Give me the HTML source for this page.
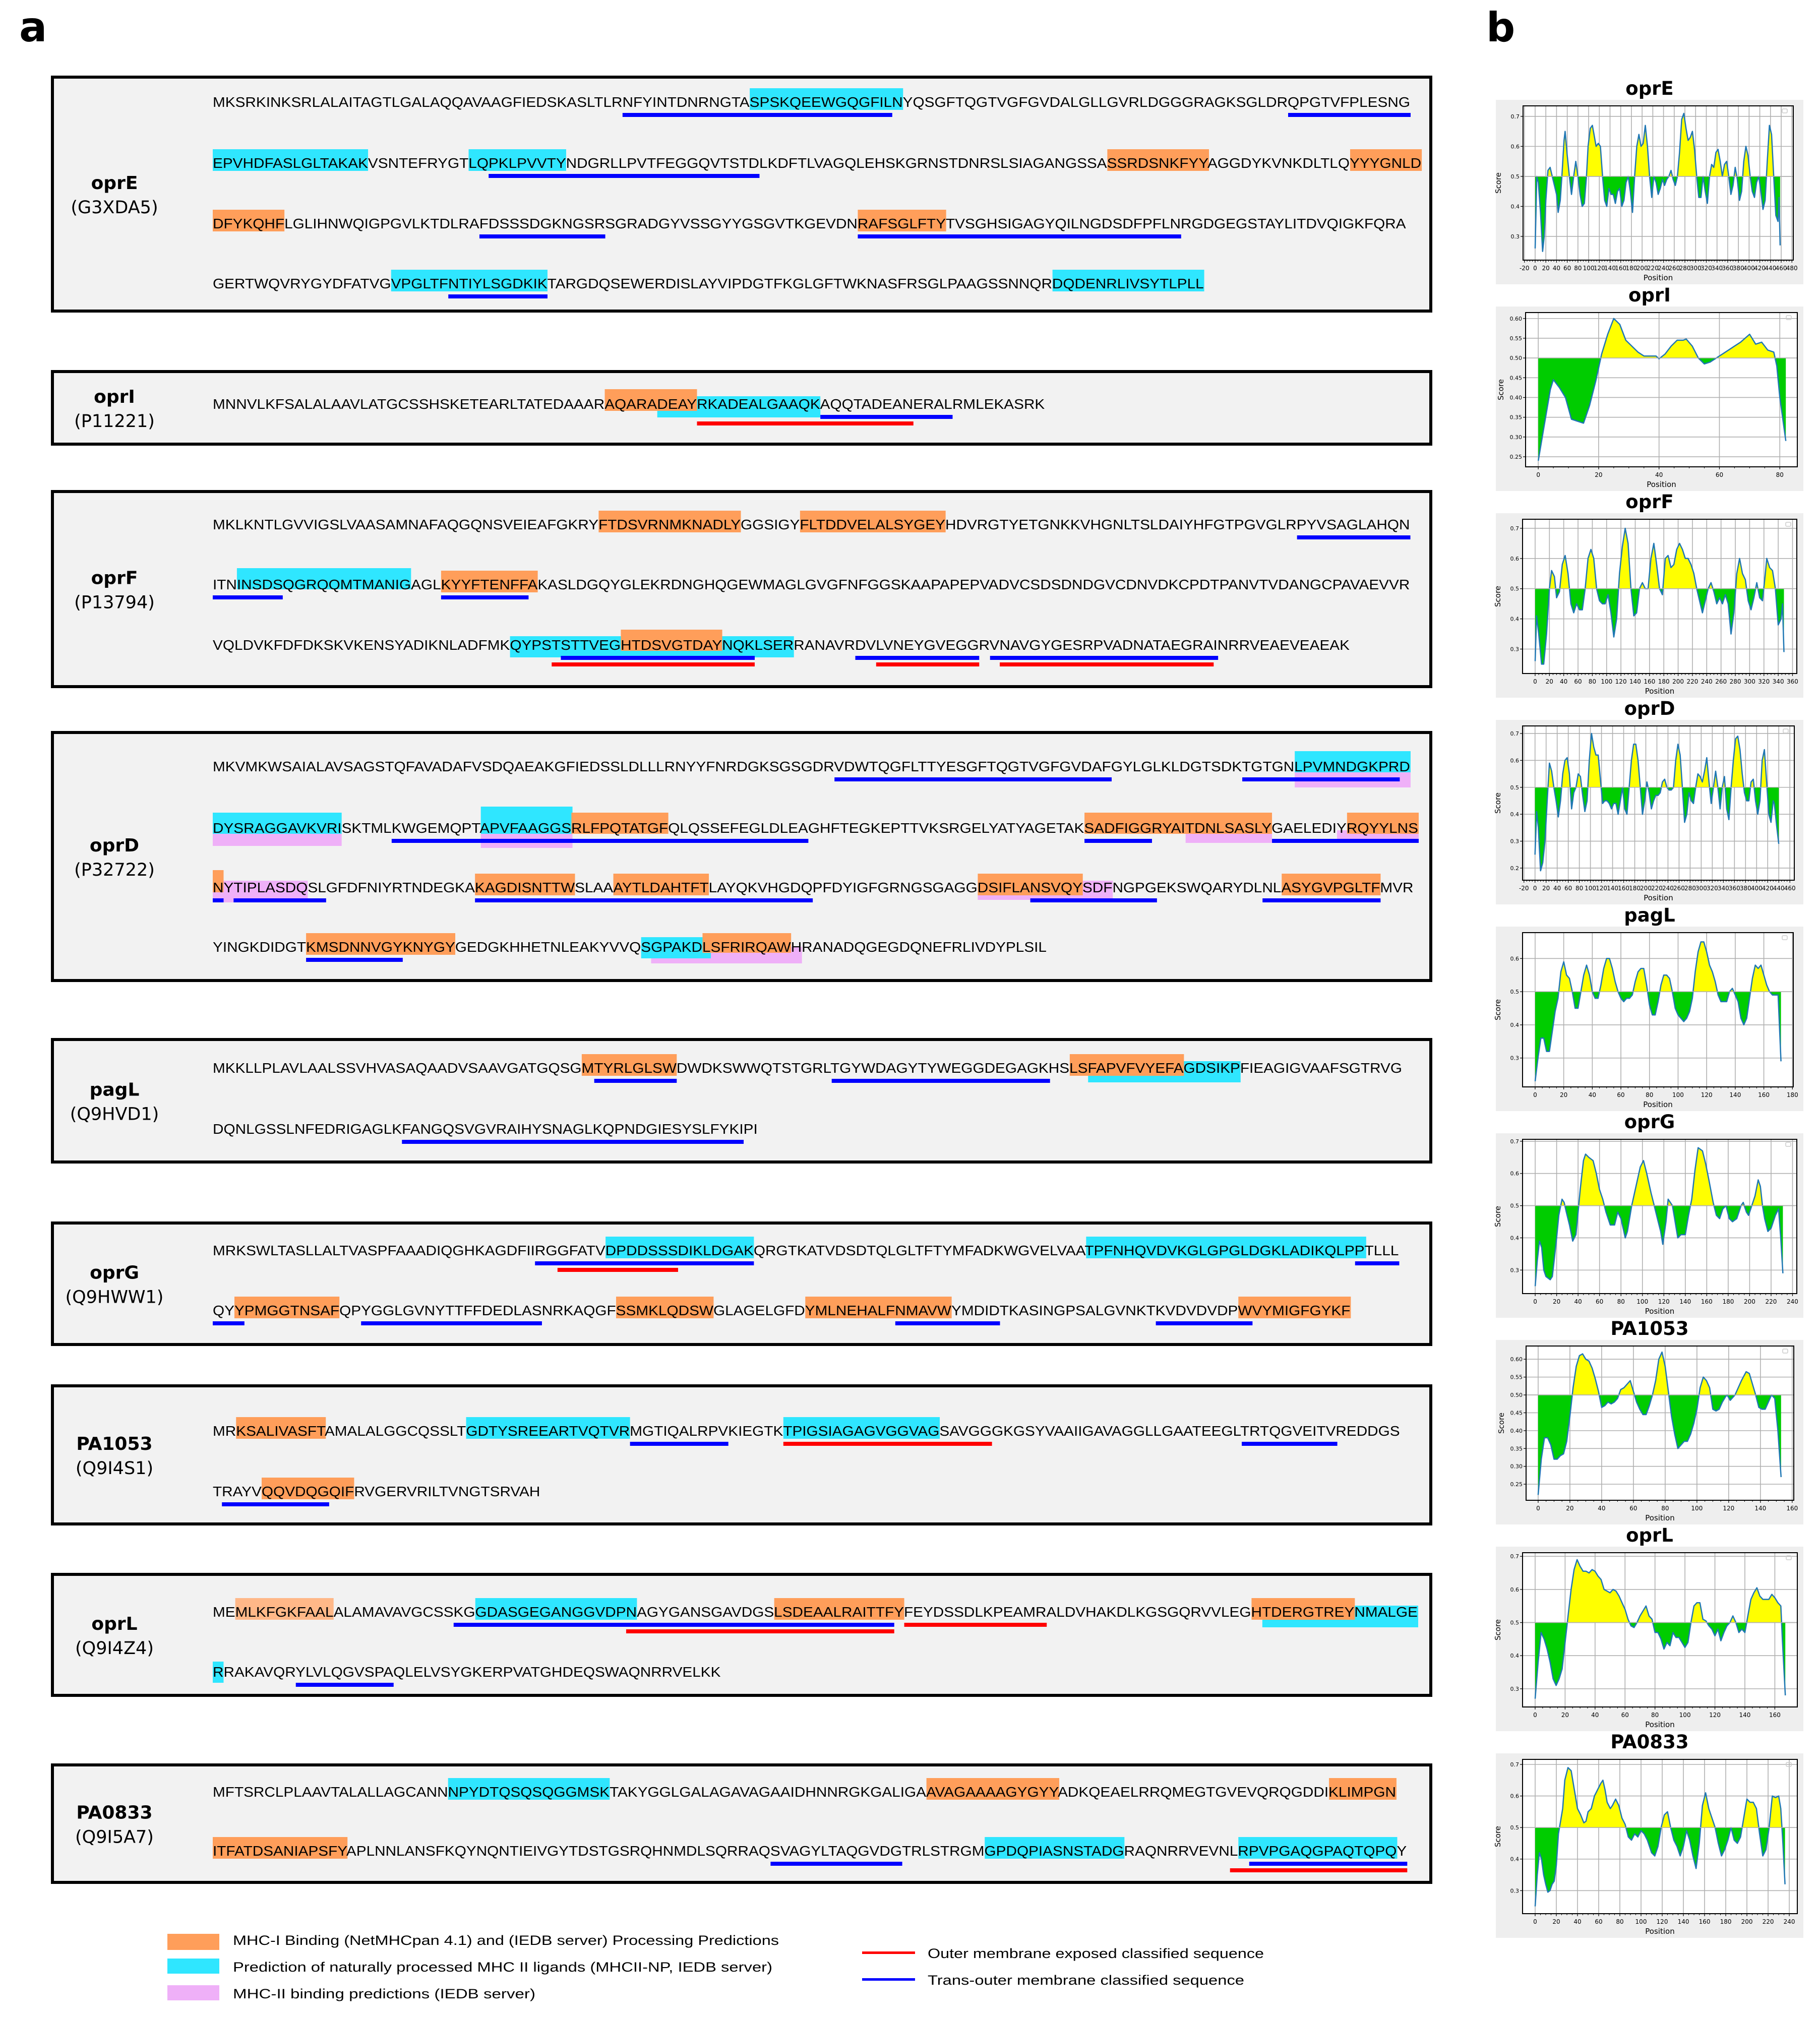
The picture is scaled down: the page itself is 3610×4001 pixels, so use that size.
<!DOCTYPE html>
<html><head><meta charset="utf-8"><style>
html,body{margin:0;padding:0;background:#fff;}
svg{display:block;}
</style></head>
<body>
<svg id="fig" xmlns="http://www.w3.org/2000/svg" width="3610" height="4001" viewBox="0 0 3610 4001">
<rect x="0" y="0" width="3610" height="4001" fill="#fff"/>
<text x="38" y="82" font-family="DejaVu Sans, sans-serif" font-weight="bold" font-size="82">a</text>
<text x="2948" y="82" font-family="DejaVu Sans, sans-serif" font-weight="bold" font-size="80">b</text>
<g id="seqs"></g>
<g id="plots"></g>
<g id="legend">
  <rect x="332" y="3836" width="103" height="32" fill="#ff9e5a"/>
  <text x="462" y="3858" font-family="Liberation Sans, sans-serif" font-size="27" textLength="1083" lengthAdjust="spacingAndGlyphs">MHC-I Binding (NetMHCpan 4.1) and (IEDB server) Processing Predictions</text>
  <rect x="332" y="3885" width="103" height="30" fill="#2fe6ff"/>
  <text x="462" y="3911" font-family="Liberation Sans, sans-serif" font-size="27" textLength="1070" lengthAdjust="spacingAndGlyphs">Prediction of naturally processed MHC II ligands (MHCII-NP, IEDB server)</text>
  <rect x="332" y="3938" width="103" height="30" fill="#efb0f8"/>
  <text x="462" y="3964" font-family="Liberation Sans, sans-serif" font-size="27" textLength="600" lengthAdjust="spacingAndGlyphs">MHC-II binding predictions (IEDB server)</text>
  <rect x="1710" y="3871" width="105" height="5" fill="#ff0000"/>
  <text x="1840" y="3884" font-family="Liberation Sans, sans-serif" font-size="27" textLength="667" lengthAdjust="spacingAndGlyphs">Outer membrane exposed classified sequence</text>
  <rect x="1710" y="3924" width="105" height="5" fill="#0000ff"/>
  <text x="1840" y="3937" font-family="Liberation Sans, sans-serif" font-size="27" textLength="628" lengthAdjust="spacingAndGlyphs">Trans-outer membrane classified sequence</text>
</g>
</svg>
<script>
// ===== Panel b data (position vs score) =====
const panelNames = ["oprE","oprI","oprF","oprD","pagL","oprG","PA1053","oprL","PA0833"];
const oprE_pos = [0,3,6,10,14,17,20,24,28,32,36,40,43,47,50,54,56,60,64,68,72,76,80,84,88,92,96,99,103,107,110,114,118,122,126,130,134,138,142,146,150,154,158,162,166,170,174,178,182,186,190,194,198,202,206,210,214,218,222,226,230,234,238,242,246,250,254,258,262,266,270,274,278,282,286,290,294,298,302,306,310,314,318,322,326,330,334,338,342,346,350,354,358,362,366,370,374,378,382,386,390,394,398,402,406,410,414,418,422,426,430,434,438,442,446,450,454,456,458];
const oprE_score = [.26,.5,.48,.38,.25,.3,.42,.52,.53,.5,.47,.44,.38,.42,.5,.62,.65,.57,.5,.44,.5,.55,.5,.44,.4,.41,.5,.6,.66,.67,.64,.6,.61,.6,.5,.42,.4,.46,.44,.44,.41,.45,.46,.4,.42,.48,.5,.45,.38,.5,.6,.64,.6,.61,.67,.6,.5,.43,.5,.48,.44,.46,.49,.47,.49,.5,.52,.49,.47,.5,.58,.69,.71,.66,.62,.63,.65,.59,.5,.43,.43,.5,.45,.41,.5,.54,.53,.58,.59,.55,.5,.54,.55,.5,.44,.47,.53,.49,.42,.45,.55,.6,.57,.5,.45,.43,.48,.5,.45,.39,.42,.55,.67,.64,.5,.37,.35,.43,.27];
const oprI_pos = [0,2,4,5,7,9,11,13,15,17,19,21,23,25,27,29,31,33,35,37,39,40,42,44,46,48,49,51,53,55,57,59,61,63,65,67,70,72,74,76,78,79,80,82];
const oprI_score = [.24,.33,.42,.445,.425,.4,.345,.34,.335,.38,.44,.51,.56,.6,.585,.545,.53,.515,.505,.505,.505,.498,.51,.53,.545,.545,.548,.53,.5,.485,.49,.5,.51,.52,.53,.54,.56,.535,.54,.52,.515,.48,.4,.29];
const oprF_pos = [0,2,5,9,12,16,20,23,27,30,34,38,42,46,50,54,58,62,66,70,74,78,82,86,90,94,98,102,106,110,114,118,122,126,130,134,138,142,146,150,154,158,162,166,170,174,178,182,186,190,194,198,202,206,210,214,218,222,226,230,234,238,242,246,250,254,258,262,266,270,274,278,282,286,290,294,298,302,306,310,314,318,322,324,328,332,336,340,344,346,348];
const oprF_score = [.26,.41,.35,.25,.25,.35,.5,.56,.54,.47,.49,.58,.61,.55,.45,.42,.45,.43,.43,.5,.6,.63,.6,.5,.46,.45,.45,.48,.42,.34,.4,.55,.64,.7,.65,.5,.41,.42,.5,.52,.5,.5,.6,.65,.58,.5,.48,.6,.61,.57,.58,.63,.65,.63,.6,.6,.58,.55,.5,.46,.42,.46,.5,.52,.49,.45,.47,.45,.48,.45,.35,.42,.55,.6,.55,.53,.46,.43,.47,.52,.47,.46,.55,.6,.57,.56,.5,.38,.4,.45,.29];
const oprD_pos = [0,3,6,10,14,18,22,26,30,34,38,42,46,50,54,58,62,66,70,74,78,82,86,90,94,98,102,106,110,114,118,122,126,130,134,138,142,146,150,154,158,162,166,170,174,178,182,186,190,194,198,202,206,210,214,218,222,226,230,234,238,242,246,250,254,258,262,266,270,274,278,282,286,290,294,298,302,306,310,314,318,322,326,330,334,338,342,346,350,354,358,362,366,370,374,378,382,386,390,394,398,402,406,410,414,418,422,426,430,432,436,440];
const oprD_score = [.25,.41,.35,.19,.22,.3,.45,.59,.56,.5,.45,.39,.45,.55,.6,.61,.55,.42,.48,.5,.55,.54,.47,.41,.45,.6,.7,.65,.62,.62,.53,.44,.45,.45,.44,.42,.44,.44,.4,.45,.5,.42,.4,.5,.6,.66,.66,.6,.5,.4,.45,.52,.48,.42,.45,.47,.47,.48,.52,.53,.5,.49,.49,.5,.6,.66,.62,.5,.37,.4,.48,.45,.44,.5,.55,.54,.52,.56,.61,.52,.44,.5,.56,.5,.42,.5,.54,.42,.38,.5,.6,.68,.69,.64,.55,.48,.45,.45,.52,.53,.45,.4,.45,.6,.64,.52,.4,.37,.45,.44,.36,.29];
const pagL_pos = [0,2,4,6,8,10,12,14,16,18,20,22,24,26,28,30,32,34,36,38,40,42,44,46,48,50,52,54,56,58,60,62,64,66,68,70,72,74,76,78,80,82,84,86,88,90,92,94,96,98,100,102,104,106,108,110,112,114,116,118,120,122,124,126,128,130,132,134,136,138,140,142,144,146,148,150,152,154,156,158,160,162,164,166,168,170,172];
const pagL_score = [.23,.3,.36,.36,.32,.32,.38,.44,.48,.56,.59,.55,.54,.5,.45,.45,.5,.55,.58,.55,.5,.48,.48,.52,.57,.6,.6,.57,.53,.5,.48,.47,.48,.48,.49,.53,.56,.57,.57,.52,.46,.43,.43,.47,.52,.55,.55,.54,.5,.45,.43,.42,.41,.42,.44,.48,.56,.62,.65,.65,.62,.58,.56,.53,.49,.47,.47,.47,.5,.51,.49,.47,.42,.4,.42,.48,.54,.58,.57,.58,.55,.52,.5,.49,.49,.49,.29];
const oprG_pos = [0,2,4,6,8,10,14,16,18,20,22,25,27,29,32,35,38,40,42,45,47,50,54,57,60,63,66,70,74,77,80,84,86,90,94,98,101,104,108,111,114,117,119,122,124,126,128,130,133,136,140,143,146,149,152,156,159,162,166,169,172,175,178,181,184,188,192,194,197,199,202,205,208,210,212,214,217,220,224,227,229,231];
const oprG_score = [.25,.33,.39,.37,.3,.28,.27,.28,.34,.4,.47,.52,.51,.48,.44,.39,.41,.48,.55,.64,.66,.65,.64,.6,.55,.52,.48,.44,.44,.48,.46,.4,.42,.5,.56,.62,.64,.6,.54,.5,.46,.42,.38,.45,.52,.51,.5,.46,.4,.41,.41,.47,.52,.61,.68,.67,.63,.58,.51,.47,.46,.49,.5,.46,.45,.46,.5,.51,.48,.47,.5,.53,.58,.56,.5,.46,.42,.43,.47,.49,.4,.29];
const PA1053_pos = [0,2,4,6,8,10,12,14,16,18,20,22,24,26,28,30,32,34,36,38,40,42,44,46,48,50,52,54,56,58,60,62,64,66,68,70,72,74,76,78,80,82,84,86,88,90,92,94,96,98,100,102,104,106,108,110,112,114,116,118,119,121,124,126,128,131,133,135,137,139,141,143,145,147,149,151,153];
const PA1053_score = [.22,.32,.38,.38,.36,.32,.32,.33,.335,.37,.44,.52,.58,.61,.615,.6,.595,.575,.545,.51,.465,.47,.48,.475,.48,.49,.515,.52,.53,.54,.51,.48,.46,.445,.445,.47,.5,.54,.6,.62,.58,.51,.44,.39,.35,.36,.37,.37,.39,.42,.46,.52,.55,.54,.52,.46,.455,.46,.48,.495,.5,.485,.5,.52,.54,.565,.56,.53,.5,.465,.46,.46,.48,.5,.49,.4,.27];
const oprL_pos = [0,2,4,6,8,10,12,14,16,18,20,22,24,26,28,30,32,34,36,38,40,42,44,46,48,50,52,54,56,58,60,62,64,66,68,70,72,74,76,78,80,82,84,86,88,90,92,94,96,98,100,102,104,106,108,110,112,114,116,118,120,122,124,126,128,130,132,134,136,138,140,142,144,146,148,150,152,154,156,158,160,162,164,165,167];
const oprL_score = [.27,.38,.47,.45,.42,.38,.33,.31,.33,.36,.44,.52,.6,.66,.69,.67,.655,.655,.65,.66,.655,.64,.63,.6,.595,.59,.6,.595,.58,.56,.54,.51,.49,.485,.5,.52,.535,.55,.52,.51,.47,.47,.45,.42,.44,.43,.47,.455,.455,.44,.425,.44,.5,.55,.56,.56,.51,.505,.49,.48,.46,.48,.445,.47,.49,.5,.52,.5,.47,.48,.47,.52,.57,.59,.605,.58,.57,.57,.57,.585,.575,.56,.55,.45,.28];
const PA0833_pos = [0,2,4,6,8,10,12,14,16,18,20,22,24,26,28,31,34,37,40,43,46,48,50,53,56,59,62,64,66,68,71,73,76,79,82,85,88,91,94,97,100,103,106,110,113,116,119,122,125,128,131,134,137,140,143,146,149,152,155,158,161,164,167,170,173,176,179,182,185,188,191,194,197,200,203,206,209,212,215,218,221,224,227,230,232,234,236];
const PA0833_score = [.25,.35,.42,.4,.35,.32,.295,.3,.32,.33,.38,.48,.52,.56,.65,.69,.68,.62,.56,.54,.515,.52,.55,.56,.6,.62,.64,.65,.62,.58,.56,.57,.59,.57,.53,.51,.47,.46,.48,.47,.49,.48,.46,.42,.41,.44,.5,.54,.55,.5,.46,.44,.41,.44,.49,.46,.41,.37,.45,.57,.61,.56,.53,.5,.45,.41,.43,.46,.5,.46,.45,.47,.53,.59,.58,.58,.56,.48,.41,.43,.5,.6,.595,.6,.56,.45,.32];
const panelPos = [oprE_pos,oprI_pos,oprF_pos,oprD_pos,pagL_pos,oprG_pos,PA1053_pos,oprL_pos,PA0833_pos];
const panelScore = [oprE_score,oprI_score,oprF_score,oprD_score,pagL_score,oprG_score,PA1053_score,oprL_score,PA0833_score];
const panelXTicks = [[-20,480,20],[0,80,20],[0,360,20],[-20,460,20],[0,180,20],[0,240,20],[0,160,20],[0,160,20],[0,240,20]];
const panelYTicks = [[.3,.7,.1],[.25,.6,.05],[.3,.7,.1],[.2,.7,.1],[.3,.6,.1],[.3,.7,.1],[.25,.6,.05],[.3,.7,.1],[.3,.7,.1]];
const panelXDomain = [[-22.6,482.6],[-4.2,85.8],[-17.6,366],[-22.5,468],[-8.8,180.6],[-11.8,244],[-7.6,161],[-8.4,175],[-11.9,247.6]];
const panelYDomain = [[.221,.735],[.2245,.615],[.219,.73],[.155,.728],[.213,.678],[.227,.706],[.205,.637],[.245,.711],[.227,.716]];

// ===== Panel a data (sequences) =====
const proteins = [
 {name:"oprE",id:"(G3XDA5)",box:[153,617],base:[212,333,453,572],
  lines:["MKSRKINKSRLALAITAGTLGALAQQAVAAGFIEDSKASLTLRNFYINTDNRNGTASPSKQEEWGQGFILNYQSGFTQGTVGFGVDALGLLGVRLDGGGRAGKSGLDRQPGTVFPLESNG",
   "EPVHDFASLGLTAKAKVSNTEFRYGTLQPKLPVVTYNDGRLLPVTFEGGQVTSTDLKDFTLVAGQLEHSKGRNSTDNRSLSIAGANGSSASSRDSNKFYYAGGDYKVNKDLTLQYYYGNLD",
   "DFYKQHFLGLIHNWQIGPGVLKTDLRAFDSSSDGKNGSRSGRADGYVSSGYYGSGVTKGEVDNRAFSGLFTYTVSGHSIGAGYQILNGDSDFPFLNRGDGEGSTAYLITDVQIGKFQRA",
   "GERTWQVRYGYDFATVGVPGLTFNTIYLSGDKIKTARGDQSEWERDISLAYVIPDGTFKGLGFTWKNASFRSGLPAAGSSNNQRDQDENRLIVSYTLPLL"],
  hl:[[0,"SPSKQEEWGQGFILN","c"],[1,"EPVHDFASLGLTAKAK","c"],[1,"LQPKLPVVTY","c"],[1,"SSRDSNKFYY","o"],[1,"YYYGNLD","o"],[2,"DFYKQHF","o"],[2,"RAFSGLFTY","o"],[3,"VPGLTFNTIYLSGDKIK","c"],[3,"DQDENRLIVSYTLPLL","c"]],
  ul:[[0,"NFYINTDNRNGTASPSKQEEWGQGFIL","b",0],[0,"QPGTVFPLESNG","b",0],[1,"PKLPVVTYNDGRLLPVTFEGGQVTSTD","b",0],[2,"FDSSSDGKNGSR","b",0],[2,"RAFSGLFTYTVSGHSIGAGYQILNGDSDFPFLN","b",0],[3,"NTIYLSGDKIK","b",0]]},
 {name:"oprI",id:"(P11221)",box:[737,881],base:[811],
  lines:["MNNVLKFSALALAAVLATGCSSHSKETEARLTATEDAAARAQARADEAYRKADEALGAAQKAQQTADEANERALRMLEKASRK"],
  hl:[[0,"DEAYRKADEALGAAQK","c",-25,17],[0,"AQARADEAY","o",-39,4]],
  ul:[[0,"AQQTADEANERAL","b",0],[0,"RKADEALGAAQKAQQTADEAN","r",1]]},
 {name:"oprF",id:"(P13794)",box:[975,1362],base:[1050,1169,1289],
  lines:["MKLKNTLGVVIGSLVAASAMNAFAQGQNSVEIEAFGKRYFTDSVRNMKNADLYGGSIGYFLTDDVELALSYGEYHDVRGTYETGNKKVHGNLTSLDAIYHFGTPGVGLRPYVSAGLAHQN",
   "ITNINSDSQGRQQMTMANIGAGLKYYFTENFFAKASLDGQYGLEKRDNGHQGEWMAGLGVGFNFGGSKAAPAPEPVADVCSDSDNDGVCDNVDKCPDTPANVTVDANGCPAVAEVVR",
   "VQLDVKFDFDKSKVKENSYADIKNLADFMKQYPSTSTTVEGHTDSVGTDAYNQKLSERRANAVRDVLVNEYGVEGGRVNAVGYGESRPVADNATAEGRAINRRVEAEVEAEAK"],
  hl:[[0,"FTDSVRNMKNADLY","o"],[0,"FLTDDVELALSYGEY","o"],[1,"INSDSQGRQQMTMANIG","c",-42,0],[1,"KYYFTENFFA","o"],[2,"QYPSTSTTVEGHTDSVGTDAYNQKLSER","c",-27,15],[2,"HTDSVGTDAY","o",-40,2]],
  ul:[[0,"PYVSAGLAHQN","b",0],[1,"ITNINSDS","b",0],[1,"KYYFTENFF","b",0],[2,"STTVEGHTDSVGTDAYNQK","b",0],[2,"DVLVNEYGVEGG","b",0],[2,"VNAVGYGESRPVADNATAEGRAI","b",0],[2,"TSTTVEGHTDSVGTDAYNQK","r",1],[2,"LVNEYGVEGG","r",1],[2,"NAVGYGESRPVADNATAEGRA","r",1]]},
 {name:"oprD",id:"(P32722)",box:[1453,1945],base:[1530,1652,1770,1888],
  lines:["MKVMKWSAIALAVSAGSTQFAVADAFVSDQAEAKGFIEDSSLDLLLRNYYFNRDGKSGSGDRVDWTQGFLTTYESGFTQGTVGFGVDAFGYLGLKLDGTSDKTGTGNLPVMNDGKPRD",
   "DYSRAGGAVKVRISKTMLKWGEMQPTAPVFAAGGSRLFPQTATGFQLQSSEFEGLDLEAGHFTEGKEPTTVKSRGELYATYAGETAKSADFIGGRYAITDNLSASLYGAELEDIYRQYYLNS",
   "NYTIPLASDQSLGFDFNIYRTNDEGKAKAGDISNTTWSLAAAYTLDAHTFTLAYQKVHGDQPFDYIGFGRNGSGAGGDSIFLANSVQYSDFNGPGEKSWQARYDLNLASYGVPGLTFMVR",
   "YINGKDIDGTKMSDNNVGYKNYGYGEDGKHHETNLEAKYVVQSGPAKDLSFRIRQAWHRANADQGEGDQNEFRLIVDYPLSIL"],
  hl:[[0,"LPVMNDGKPRD","p",-10,32],[0,"LPVMNDGKPRD","c",-40,2],[1,"DYSRAGGAVKVRI","p",-10,26],[1,"DYSRAGGAVKVRI","c",-40,2],[1,"APVFAAGGS","p",-10,30],[1,"APVFAAGGS","c",-52,2],[1,"RLFPQTATGF","o",-40,2],[1,"TDNLSASLY","p",-5,20],[1,"SADFIGGRYAITDNLSASLY","o",-40,2],[1,"YRQYYLNS","p",-5,20],[1,"RQYYLNS","o",-40,2],
   [2,"NYTIPLASDQ","p",-23,20],[2,"N","o",-44,0],[2,"KAGDISNTTW","o"],[2,"AYTLDAHTFT","o"],[2,"DSIFLANSVQYSDF","p",-23,15],[2,"DSIFLANSVQY","o"],[2,"ASYGVPGLTF","o"],
   [3,"GPAKDLSFRIRQAWH","p",-10,23],[3,"KMSDNNVGYKNYGY","o"],[3,"SGPAKDL","c",-29,13],[3,"LSFRIRQAW","o",-37,2]],
  ul:[[0,"VDWTQGFLTTYESGFTQGTVGFGVDAF","b",0],[0,"TGTGNLPVMNDGKPR","b",0],[1,"KWGEMQPTAPVFAAGGSRLFPQTATGFQLQSSEFEGLDLEA","b",0],[1,"SADFIGG","b",0],[1,"GAELEDIYRQYYLNS","b",0],
   [2,"N","b",0],[2,"TIPLASDQSL","b",0],[2,"KAGDISNTTWSLAAAYTLDAHTFTLAYQKVHGDQ","b",0],[2,"NSVQYSDFNGPG","b",0],[2,"NLASYGVPGLTF","b",0],[3,"KMSDNNVGY","b",0]]},
 {name:"pagL",id:"(Q9HVD1)",box:[2062,2305],base:[2128,2249],
  lines:["MKKLLPLAVLAALSSVHVASAQAADVSAAVGATGQSGMTYRLGLSWDWDKSWWQTSTGRLTGYWDAGYTYWEGGDEGAGKHSLSFAPVFVYEFAGDSIKPFIEAGIGVAAFSGTRVG",
   "DQNLGSSLNFEDRIGAGLKFANGQSVGVRAIHYSNAGLKQPNDGIESYSLFYKIPI"],
  hl:[[0,"MTYRLGLSW","o"],[0,"FAPVFVYEFAGDSIKP","c",-23,19],[0,"LSFAPVFVYEFA","o"]],
  ul:[[0,"TYRLGLSW","b",0],[0,"TGYWDAGYTYWEGGDEGAGK","b",0],[1,"FANGQSVGVRAIHYSNAGLKQPNDGIESYSLFYKI","b",0]]},
 {name:"oprG",id:"(Q9HWW1)",box:[2426,2667],base:[2490,2609],
  lines:["MRKSWLTASLLALTVASPFAAADIQGHKAGDFIIRGGFATVDPDDSSSDIKLDGAKQRGTKATVDSDTQLGLTFTYMFADKWGVELVAATPFNHQVDVKGLGPGLDGKLADIKQLPPTLLL",
   "QYYPMGGTNSAFQPYGGLGVNYTTFFDEDLASNRKAQGFSSMKLQDSWGLAGELGFDYMLNEHALFNMAVWYMDIDTKASINGPSALGVNKTKVDVDVDPWVYMIGFGYKF"],
  hl:[[0,"DPDDSSSDIKLDGAK","c"],[0,"TPFNHQVDVKGLGPGLDGKLADIKQLPP","c"],[1,"YPMGGTNSAF","o"],[1,"SSMKLQDSW","o"],[1,"YMLNEHALFNMAVW","o"],[1,"WVYMIGFGYKF","o"]],
  ul:[[0,"RGGFATVDPDDSSSDIKLDGAK","b",0],[0,"GFATVDPDDSSS","r",1],[0,"PTLLL","b",0],[1,"QYY","b",0],[1,"YGGLGVNYTTFFDEDLAS","b",0],[1,"NMAVWYMDID","b",0],[1,"KVDVDVDPW","b",0]]},
 {name:"PA1053",id:"(Q9I4S1)",box:[2749,3023],base:[2848,2968],
  lines:["MRKSALIVASFTAMALALGGCQSSLTGDTYSREEARTVQTVRMGTIQALRPVKIEGTKTPIGSIAGAGVGGVAGSAVGGGKGSYVAAIIGAVAGGLLGAATEEGLTRTQGVEITVREDDGS",
   "TRAYVQQVDQGQIFRVGERVRILTVNGTSRVAH"],
  hl:[[0,"KSALIVASFT","o"],[0,"GDTYSREEARTVQTVR","c"],[0,"TPIGSIAGAGVGGVAG","c"],[1,"QQVDQGQIF","o"]],
  ul:[[0,"MGTIQALRPV","b",0],[0,"TPIGSIAGAGVGGVAGSAVGG","r",0],[0,"TRTQGVEITV","b",0],[1,"RAYVQQVDQG","b",0]]},
 {name:"oprL",id:"(Q9I4Z4)",box:[3123,3363],base:[3207,3326],
  lines:["MEMLKFGKFAALALAMAVAVGCSSKGGDASGEGANGGVDPNAGYGANSGAVDGSLSDEAALRAITTFYFEYDSSDLKPEAMRALDVHAKDLKGSGQRVVLEGHTDERGTREYNMALGE",
   "RRAKAVQRYLVLQGVSPAQLELVSYGKERPVATGHDEQSWAQNRRVELKK"],
  hl:[[0,"MLKFGKFAAL","l"],[0,"GDASGEGANGGVDPN","c"],[0,"LSDEAALRAITTFY","o"],[0,"TDERGTREYNMALGE","c",-22,21],[0,"HTDERGTREY","o"],[1,"R","c",-30,12]],
  ul:[[0,"KGGDASGEGANGGVDPNAGYGANSGAVDGSLSDEAALRAITTF","b",0],[0,"NAGYGANSGAVDGSLSDEAALRAITTF","r",1],[0,"FEYDSSDLKPEAMR","r",0],[1,"YLVLQGVSPA","b",0]]},
 {name:"PA0833",id:"(Q9I5A7)",box:[3501,3734],base:[3564,3681],
  lines:["MFTSRCLPLAAVTALALLAGCANNNPYDTQSQSQGGMSKTAKYGGLGALAGAVAGAAIDHNNRGKGALIGAAVAGAAAAGYGYYADKQEAELRRQMEGTGVEVQRQGDDIKLIMPGN",
   "ITFATDSANIAPSFYAPLNNLANSFKQYNQNTIEIVGYTDSTGSRQHNMDLSQRRAQSVAGYLTAQGVDGTRLSTRGMGPDQPIASNSTADGRAQNRRVEVNLRPVPGAQGPAQTQPQY"],
  hl:[[0,"NPYDTQSQSQGGMSK","c"],[0,"AVAGAAAAGYGYY","o"],[0,"KLIMPGN","o"],[1,"ITFATDSANIAPSFY","o"],[1,"GPDQPIASNSTADG","c"],[1,"RPVPGAQGPAQTQPQ","c"]],
  ul:[[1,"SVAGYLTAQGVDG","b",0],[1,"PVPGAQGPAQTQPQY","b",0],[1,"LRPVPGAQGPAQTQPQY","r",1]]}
];

const NS="http://www.w3.org/2000/svg";
function mk(tag, attrs, parent){const e=document.createElementNS(NS,tag);for(const k in attrs)e.setAttribute(k,attrs[k]);if(parent)parent.appendChild(e);return e;}
const COL={o:"#ff9e5a",c:"#2fe6ff",p:"#efb0f8",l:"#ffb888",b:"#0000ff",r:"#ff0000"};
const FS=28;
const cv=document.createElement("canvas").getContext("2d");
cv.font=FS+'px "Liberation Sans"';
const tw=s=>cv.measureText(s).width;
const X0=422;
const SX=(2798-X0)/tw(proteins[0].lines[0]);

const seqRoot=document.getElementById("seqs");
proteins.forEach((p,pi)=>{
  const g=mk("g",{},seqRoot);
  
  
  const box=mk("rect",{x:104,y:p.box[0],width:2734,height:p.box[1]-p.box[0],fill:"#f2f2f2",stroke:"#000","stroke-width":6},g);
  
  
  const cy=(p.box[0]+p.box[1])/2;
  const nm=mk("text",{x:227,y:cy-10,"text-anchor":"middle","font-family":"DejaVu Sans, sans-serif","font-weight":"bold","font-size":36},g);
  nm.textContent=p.name;
  
  
  const idt=mk("text",{x:227,y:cy+38,"text-anchor":"middle","font-family":"DejaVu Sans, sans-serif","font-size":35},g);
  idt.textContent=p.id;
  
  
  p.lines.forEach((ln,li)=>{
    const lg=mk("g",{transform:`translate(${X0},${p.base[li]}) scale(${SX},1)`},g);
    
    
    const hls=p.hl.filter(h=>h[0]===li);
    const ordered=hls.filter(h=>h[2]==="p").concat(hls.filter(h=>h[2]!=="p"));
    ordered.forEach(h=>{
      const idx=ln.indexOf(h[1]); if(idx<0)return;
      const x=tw(ln.slice(0,idx)), w=tw(h[1]);
      const t=h[3]!==undefined?h[3]:(h[2]==="p"?-12:-37), b=h[4]!==undefined?h[4]:(h[2]==="p"?30:6);
      const r=mk("rect",{x:x,y:t,width:w,height:b-t,fill:COL[h[2]]},lg);
      
      
    });
    const tx=mk("text",{x:0,y:0,"font-family":"Liberation Sans, sans-serif","font-size":FS,fill:"#000"},lg);
    tx.textContent=ln;
    
    
    p.ul.filter(u=>u[0]===li).forEach(u=>{
      const idx=ln.indexOf(u[1]); if(idx<0)return;
      const x=tw(ln.slice(0,idx)), w=tw(u[1]);
      const yy=u[3]===1?25:12;
      const r=mk("rect",{x:x,y:yy,width:w,height:8,fill:COL[u[2]]},lg);
      
      
    });
  });
});

// ===== Panel b plots =====
const plotRoot=document.getElementById("plots");
const AXL=[3021,3026,3020,3020,3020,3020,3027,3020,3020];
const AXR=[3557,3565,3564,3559,3557,3564,3558,3565,3565];
panelNames.forEach((nm,i)=>{
  const by=198+i*410;
  const g=mk("g",{},plotRoot);
  
  
  const ttl=mk("text",{x:3272,y:by-10,"text-anchor":"middle","font-family":"DejaVu Sans, sans-serif","font-weight":"bold","font-size":37},g);
  ttl.textContent=nm;
  
  
  const bg=mk("rect",{x:2967,y:by,width:610,height:366,fill:"#eeeeee"},g);
  
  
  const L=AXL[i],R=AXR[i],T=by+12,B=by+318;
  mk("rect",{x:L,y:T,width:R-L,height:B-T,fill:"#fff"},g);
  const xd=panelXDomain[i], yd=panelYDomain[i];
  const sx=v=>L+(v-xd[0])/(xd[1]-xd[0])*(R-L);
  const sy=v=>B-(v-yd[0])/(yd[1]-yd[0])*(B-T);
  const [x0,x1,xs]=panelXTicks[i];
  for(let v=x0;v<=x1+1e-9;v+=xs){
    const X=sx(v);
    const gl=mk("line",{x1:X,y1:T,x2:X,y2:B,stroke:"#b0b0b0","stroke-width":1.6},g);
    
    
    mk("line",{x1:X,y1:B,x2:X,y2:B+5,stroke:"#000","stroke-width":1.2},g);
    const tl=mk("text",{x:X,y:B+20,"text-anchor":"middle","font-family":"DejaVu Sans, sans-serif","font-size":12},g);
    tl.textContent=String(v);
    
    
    for(let m=1;m<4;m++){const mv=v+m*xs/4;if(mv>x1)break;const MX=sx(mv);if(MX<R)mk("line",{x1:MX,y1:B,x2:MX,y2:B+3,stroke:"#000","stroke-width":1},g);}
  }
  const [y0,y1,ys]=panelYTicks[i];
  const dec=ys<0.1?2:1;
  for(let k=0;y0+k*ys<=y1+1e-9;k++){
    const v=y0+k*ys, Y=sy(v);
    const gl=mk("line",{x1:L,y1:Y,x2:R,y2:Y,stroke:"#b0b0b0","stroke-width":1.6},g);
    
    
    mk("line",{x1:L-5,y1:Y,x2:L,y2:Y,stroke:"#000","stroke-width":1.2},g);
    const tl=mk("text",{x:L-7,y:Y+4,"text-anchor":"end","font-family":"DejaVu Sans, sans-serif","font-size":11},g);
    tl.textContent=v.toFixed(dec);
    
    
  }
  const px=panelPos[i], py=panelScore[i];
  const base=sy(0.5);
  let pts=px.map((v,j)=>sx(v).toFixed(1)+","+sy(py[j]).toFixed(1));
  const area="M"+sx(px[0]).toFixed(1)+","+base+" L"+pts.join(" L")+" L"+sx(px[px.length-1]).toFixed(1)+","+base+" Z";
  const cid="clipA"+i, cid2="clipB"+i;
  const defs=mk("defs",{},g);
  const c1=mk("clipPath",{id:cid},defs); mk("rect",{x:L,y:T,width:R-L,height:base-T},c1);
  const c2=mk("clipPath",{id:cid2},defs); mk("rect",{x:L,y:base,width:R-L,height:B-base},c2);
  const ya=mk("path",{d:area,fill:"#ffff00","clip-path":`url(#${cid})`},g);
  
  
  const ga=mk("path",{d:area,fill:"#00cc00","clip-path":`url(#${cid2})`},g);
  
  
  const line=mk("polyline",{points:pts.join(" "),fill:"none",stroke:"#1f77b4","stroke-width":2.5,"stroke-linejoin":"round"},g);
  
  
  const th=mk("line",{x1:L,y1:base,x2:R,y2:base,stroke:"#b0b0b0","stroke-width":1.6},g);
  
  
  mk("rect",{x:L,y:T,width:R-L,height:B-T,fill:"none",stroke:"#000","stroke-width":2},g);
  mk("rect",{x:R-22,y:T+6,width:10,height:8,fill:"none",stroke:"#ccc","stroke-width":1.5,rx:2},g);
  const xl=mk("text",{x:(L+R)/2,y:B+40,"text-anchor":"middle","font-family":"DejaVu Sans, sans-serif","font-size":15},g);
  xl.textContent="Position";
  
  
  const yl=mk("text",{x:0,y:0,"text-anchor":"middle","font-family":"DejaVu Sans, sans-serif","font-size":15,transform:`translate(${L-44},${(T+B)/2}) rotate(-90)`},g);
  yl.textContent="Score";
  
  
});
</script>
</body></html>
